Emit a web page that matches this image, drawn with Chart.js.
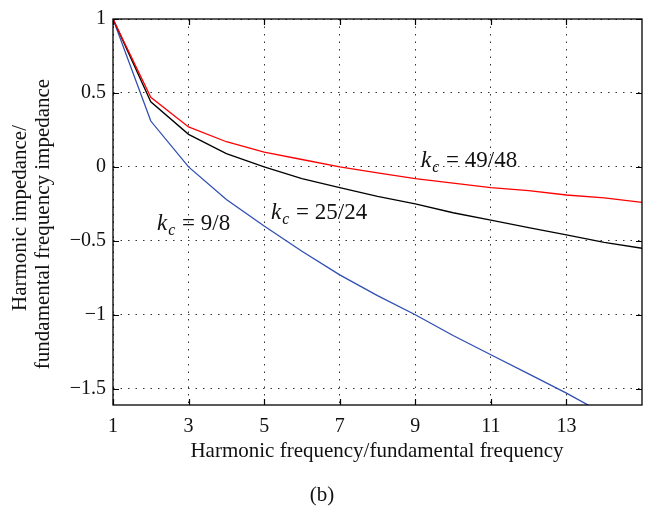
<!DOCTYPE html>
<html>
<head>
<meta charset="utf-8">
<script src="https://cdn.jsdelivr.net/npm/chart.js@4/dist/chart.umd.min.js"></script>
<style>
html,body{margin:0;padding:0;background:#fff;}
#wrap{width:645px;height:509px;position:relative;}
</style>
</head>
<body>
<div id="wrap"><canvas id="c" width="645" height="509"></canvas></div>
<script>
const harmonics = [1,2,3,4,5,6,7,8,9,10,11,12,13,14,15];
const kc98   = [1, 0.31, 0.00, -0.22, -0.40, -0.57, -0.73, -0.87, -1.00, -1.14, -1.27, -1.40, -1.53, -1.67, -1.80];
const kc2524 = [1, 0.44, 0.22, 0.09, 0.00, -0.08, -0.14, -0.20, -0.25, -0.31, -0.36, -0.41, -0.46, -0.51, -0.55];
const kc4948 = [1, 0.47, 0.27, 0.17, 0.10, 0.05, 0.00, -0.04, -0.08, -0.11, -0.14, -0.16, -0.19, -0.21, -0.24];
const xTicks = [1,3,5,7,9,11,13];
const yTicks = [-1.5,-1,-0.5,0,0.5,1];
const seriesNames = ['9/8','25/24','49/48'];
const xTitle = 'Harmonic frequency/fundamental frequency';
const yTitle = ['Harmonic impedance/','fundamental frequency impedance'];
const caption = '(b)';

const SERIF = '"Liberation Serif", "DejaVu Serif", serif';
const pts = arr => harmonics.map((h,i)=>({x:h,y:arr[i]}));

const decor = {
  id:'decor',
  afterDatasetsDraw(chart){
    const {ctx, chartArea:a, scales:{x,y}} = chart;
    ctx.save();
    // frame
    ctx.strokeStyle='#000'; ctx.lineWidth=1.3;
    ctx.strokeRect(a.left, a.top, a.right-a.left, a.bottom-a.top);
    // inward ticks
    const tl=6;
    ctx.lineWidth=1.2;
    ctx.beginPath();
    xTicks.forEach(v=>{const px=Math.round(x.getPixelForValue(v))+0.5;
      ctx.moveTo(px,a.bottom); ctx.lineTo(px,a.bottom-tl);
      ctx.moveTo(px,a.top); ctx.lineTo(px,a.top+tl);});
    yTicks.forEach(v=>{const py=Math.round(y.getPixelForValue(v))+0.5;
      ctx.moveTo(a.left,py); ctx.lineTo(a.left+tl,py);
      ctx.moveTo(a.right,py); ctx.lineTo(a.right-tl,py);});
    ctx.stroke();
    // annotations
    ctx.fillStyle='#111';
    ctx.textBaseline='alphabetic';
    const ann = [
      {t:seriesNames[0], x:157, y:230},
      {t:seriesNames[1], x:271, y:219},
      {t:seriesNames[2], x:421, y:167}
    ];
    ann.forEach(o=>{
      ctx.textAlign='left';
      ctx.font='italic 23px '+SERIF;
      ctx.fillText('k', o.x, o.y);
      let w=ctx.measureText('k').width;
      ctx.font='italic 16px '+SERIF;
      ctx.fillText('c', o.x+w+1, o.y+5);
      w += ctx.measureText('c').width+1;
      ctx.font='23px '+SERIF;
      ctx.fillText(' = '+o.t, o.x+w+1, o.y);
    });
    // axis titles
    ctx.font='21px '+SERIF;
    ctx.fillStyle='#111';
    ctx.textAlign='center';
    ctx.textBaseline='alphabetic';
    ctx.fillText(xTitle, 377, 457);
    ctx.fillText(caption, 322, 501);
    ctx.save();
    ctx.rotate(-Math.PI/2);
    ctx.fillText(yTitle[0], -218, 26);
    ctx.fillText(yTitle[1], -224, 49);
    ctx.restore();
    ctx.restore();
  }
};

new Chart(document.getElementById('c'), {
  type:'line',
  data:{datasets:[
    {label:seriesNames[2], data:pts(kc4948), borderColor:'#ff0000', borderWidth:1.3, pointRadius:0, tension:0, fill:false},
    {label:seriesNames[1], data:pts(kc2524), borderColor:'#000000', borderWidth:1.3, pointRadius:0, tension:0, fill:false},
    {label:seriesNames[0], data:pts(kc98), borderColor:'#2f4fb3', borderWidth:1.3, pointRadius:0, tension:0, fill:false}
  ]},
  options:{
    responsive:false, animation:false, devicePixelRatio:1,
    layout:{padding:{top:12,right:3,left:0,bottom:0}},
    plugins:{legend:{display:false}, tooltip:{enabled:false}},
    scales:{
      x:{type:'linear', min:1, max:15,
        afterBuildTicks:s=>{s.ticks=xTicks.map(v=>({value:v}));},
        afterFit:s=>{s.height=104;},
        border:{display:false, dash:[1.5,6]},
        grid:{color:'#333', lineWidth:1, drawTicks:false},
        ticks:{padding:10, color:'#111', font:{family:SERIF, size:20}, maxRotation:0, autoSkip:false}
      },
      y:{type:'linear', min:-1.61, max:1,
        afterBuildTicks:s=>{s.ticks=yTicks.map(v=>({value:v}));},
        afterFit:s=>{s.width=113;},
        border:{display:false, dash:[1.5,6]},
        grid:{color:'#333', lineWidth:1, drawTicks:false},
        ticks:{padding:7, color:'#111', font:{family:SERIF, size:20}, autoSkip:false,
          callback:v=>String(v).replace('-','\u2212')}
      }
    }
  },
  plugins:[decor]
});
</script>
</body>
</html>
